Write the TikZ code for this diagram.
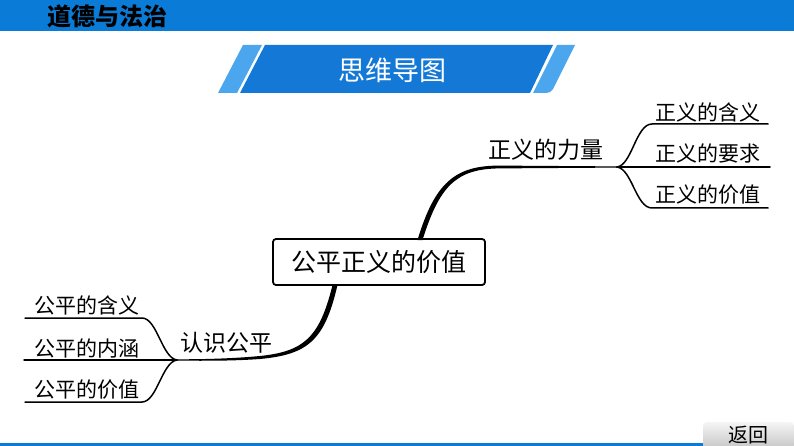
\documentclass[tikz,border=0pt]{standalone}
\usepackage{fontspec}
\newfontfamily\cjk{Noto Sans CJK SC}
\definecolor{barblue}{HTML}{0A7BD6}
\definecolor{bandark}{HTML}{1479D6}
\definecolor{banlight}{HTML}{4CA6EE}
\tikzset{
  leaf/.style={font=\cjk\fontsize{21}{21}\selectfont, inner sep=0pt},
  mid/.style={font=\cjk\fontsize{23}{23}\selectfont, inner sep=0pt},
  branch/.style={line width=1.5pt, line cap=round},
  trunk/.style={fill=black, draw=none}
}
\begin{document}
\begin{tikzpicture}[x=1pt,y=-1pt]
\useasboundingbox (0,0) rectangle (794,446);
\fill[white] (0,0) rectangle (794,446);
% top bar
\fill[barblue] (0,0) rectangle (794,31);
\node[font=\cjk\bfseries\fontsize{24}{24}\selectfont, anchor=west, inner sep=0pt] (subj) at (47,16) {道德与法治};
% banner
\fill[banlight] (218,93) -- (243,45) -- (262,45) -- (237,93) -- cycle;
\fill[bandark] (240,93) -- (265,45) -- (553,45) -- (530,93) -- cycle;
\fill[banlight] (533,93) -- (557,45) -- (575,45) -- (553,89) to[out=-115,in=0] (546,93) -- cycle;
\node[font=\cjk\fontsize{27}{27}\selectfont, text=white, inner sep=0pt] (title) at (392,70) {思维导图};
% central node
\node[draw, line width=1.8pt, rounded corners=3pt, minimum width=212pt, minimum height=46pt,
      font=\cjk\fontsize{25}{25}\selectfont] (root) at (379,262) {公平正义的价值};
% coordinates
\coordinate (rb) at (617,167);
\coordinate (lb) at (177,360);
% upper trunk
\fill[trunk] (417.5,240) .. controls (434.5,184) and (454,165.3) .. (500,165.6) -- (617,166.4) -- (617,167.6) -- (500,168.4) .. controls (456,168.7) and (439.5,186) .. (422.5,240) -- cycle;
% lower trunk
\fill[trunk] (332.5,285) .. controls (319.5,338.5) and (303,351.5) .. (260,356) .. controls (230,358.8) and (200,359.3) .. (177,359.3) -- (177,360.7) .. controls (200,360.7) and (230,361.2) .. (260,359) .. controls (307,354.5) and (324.5,341.5) .. (337.5,285) -- cycle;
% right side texts
\node[mid] (zy) at (546,150) {正义的力量};
\node[leaf] (r1) at (708,112) {正义的含义};
\node[leaf] (r2) at (708,153) {正义的要求};
\node[leaf] (r3) at (708,195) {正义的价值};
\coordinate (r1e) at (768,124);
\coordinate (r2e) at (770,167);
\coordinate (r3e) at (768,208);
\draw[branch] (rb) .. controls (632,165) and (636,124) .. (652,124) -- (r1e);
\draw[branch] (rb) -- (r2e);
\draw[branch] (rb) .. controls (632,169) and (636,208) .. (652,208) -- (r3e);
% left side texts
\node[mid] (rs) at (226,343) {认识公平};
\node[leaf] (l1) at (87,305) {公平的含义};
\node[leaf] (l2) at (87,348) {公平的内涵};
\node[leaf] (l3) at (87,390) {公平的价值};
\coordinate (l1e) at (25,318);
\coordinate (l2e) at (24,360);
\coordinate (l3e) at (25,402);
\draw[branch] (lb) .. controls (162,358) and (157,318) .. (142,318) -- (l1e);
\draw[branch] (lb) -- (l2e);
\draw[branch] (lb) .. controls (162,362) and (157,402) .. (142,402) -- (l3e);
% bottom
\fill[barblue] (0,443) rectangle (705,446);
\shade[top color=gray!8, bottom color=gray!45, rounded corners=4pt] (703,422) rectangle (794,449);
\node[font=\cjk\fontsize{20}{20}\selectfont, inner sep=0pt] (back) at (748,435) {返回};
\end{tikzpicture}
\end{document}
